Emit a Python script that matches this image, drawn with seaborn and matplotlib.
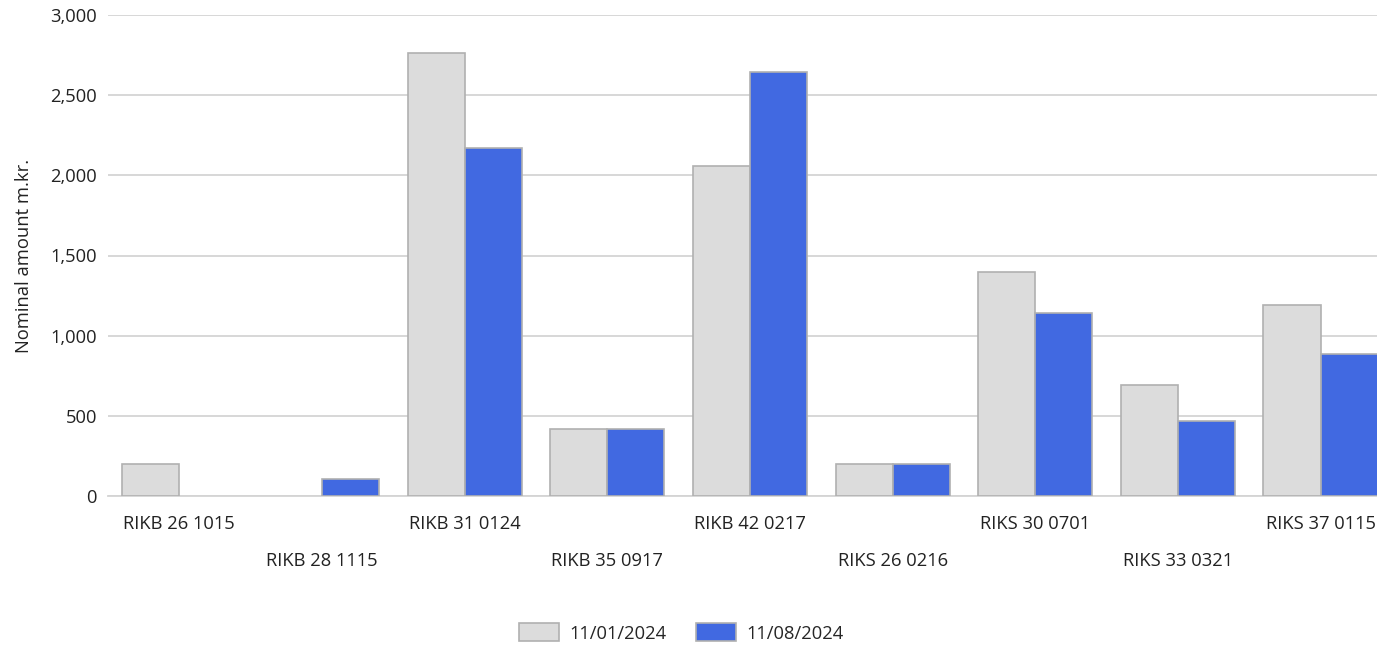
import matplotlib
matplotlib.use("Agg")
import matplotlib.pyplot as plt
import seaborn as sns
import pandas as pd
from matplotlib.patches import Patch

categories = ["RIKB 26 1015", "RIKB 28 1115", "RIKB 31 0124", "RIKB 35 0917",
              "RIKB 42 0217", "RIKS 26 0216", "RIKS 30 0701", "RIKS 33 0321",
              "RIKS 37 0115"]
series_names = ["11/01/2024", "11/08/2024"]
values_0111 = [200, 0, 2765, 418, 2060, 200, 1400, 690, 1190]
values_0811 = [0, 105, 2170, 415, 2645, 200, 1140, 470, 885]
yticks = [0, 500, 1000, 1500, 2000, 2500, 3000]
colors = ["#dcdcdc", "#4169e1"]

df = pd.DataFrame({
    "bond": categories * 2,
    "date": [series_names[0]] * len(categories) + [series_names[1]] * len(categories),
    "amount": values_0111 + values_0811,
})

sns.set_theme(style="white")
plt.rcParams["font.family"] = ["Open Sans", "DejaVu Sans"]
FS = 13.2

W, H = 1377, 647
fig = plt.figure(figsize=(W / 100, H / 100), dpi=100)
ax = fig.add_axes([108 / W, 1 - 496 / H, (W - 108) / W, (496 - 15) / H])

sns.barplot(data=df, x="bond", y="amount", hue="date", order=categories,
            hue_order=series_names, palette=colors, width=0.8, saturation=1,
            edgecolor="#b0b0b0", linewidth=1.2, ax=ax, legend=False, zorder=3)
for p in ax.patches:
    if p.get_height() == 0:
        p.set_visible(False)

cat_w = 142.65
ax.set_xlim(-0.5, -0.5 + (W - 108) / cat_w)
ax.set_ylim(0, 3000)
ax.set_yticks(yticks)
ax.set_yticklabels([f"{v:,}" for v in yticks], fontsize=FS, color="#222222")
ax.yaxis.grid(True, color="#d4d4d4", linewidth=1.3, zorder=0)
ax.set_axisbelow(True)
for s in ["top", "right", "left"]:
    ax.spines[s].set_visible(False)
ax.spines["bottom"].set_color("#d4d4d4")
ax.spines["bottom"].set_linewidth(1.3)
ax.tick_params(axis="y", length=0, pad=8)
ax.tick_params(axis="x", length=7, color="#d4d4d4", width=1.3, direction="out")

ax.set_xticks(range(len(categories)))
ax.set_xticklabels([])
for i, c in enumerate(categories):
    yoff = -28 if i % 2 == 0 else -65
    ax.annotate(c, xy=(i, 0), xycoords=("data", "data"), xytext=(0, yoff),
                textcoords="offset pixels", ha="center", va="center",
                fontsize=FS, color="#222222", annotation_clip=False)

ax.set_xlabel("")
ax.set_ylabel("Nominal amount m.kr.", fontsize=FS, color="#222222", labelpad=12)

handles = [Patch(facecolor=colors[0], edgecolor="#b0b0b0", linewidth=1.2),
           Patch(facecolor=colors[1], edgecolor="#b0b0b0", linewidth=1.2)]
fig.legend(handles, series_names, loc="center", bbox_to_anchor=(681 / W, 1 - 633 / H),
           ncol=2, frameon=False, fontsize=FS, handlelength=2.2, handleheight=1.1,
           handletextpad=0.55, columnspacing=1.6)

fig.savefig("out.png", dpi=100)
